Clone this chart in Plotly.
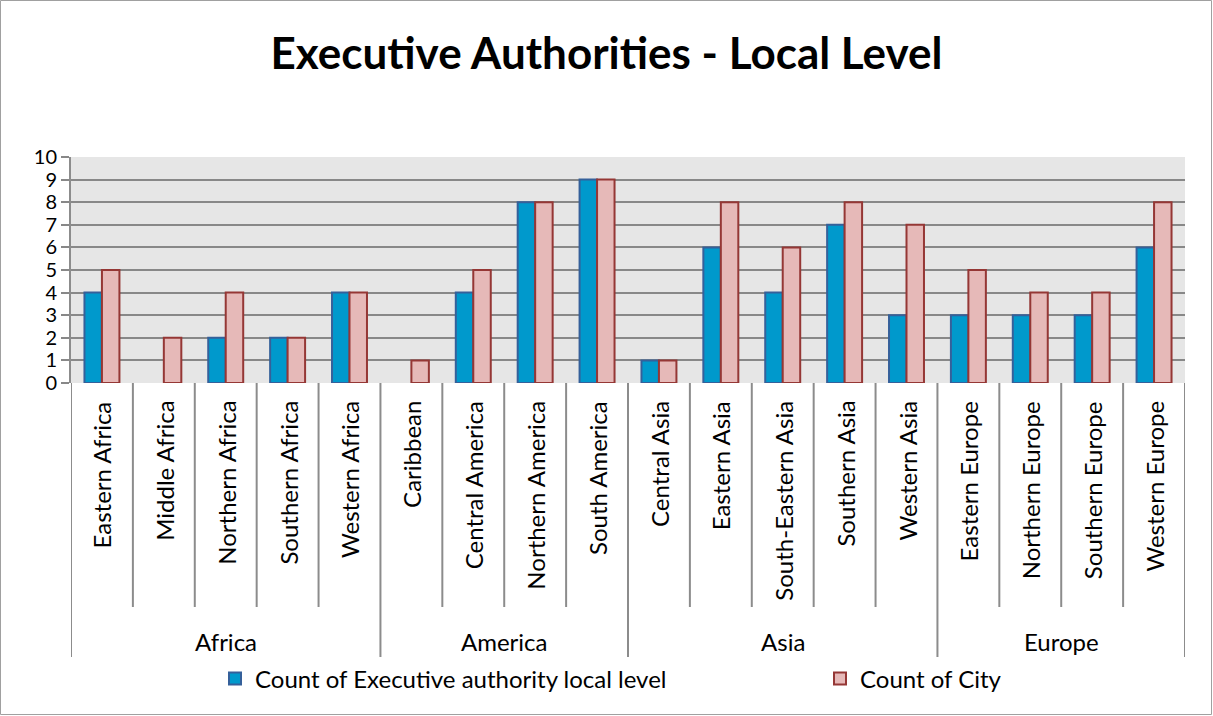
import plotly.graph_objects as go

regions = ["Eastern Africa", "Middle Africa", "Northern Africa", "Southern Africa", "Western Africa",
           "Caribbean", "Central America", "Northern America", "South America",
           "Central Asia", "Eastern Asia", "South-Eastern Asia", "Southern Asia", "Western Asia",
           "Eastern Europe", "Northern Europe", "Southern Europe", "Western Europe"]
continents = ["Africa", "America", "Asia", "Europe"]
continent_sizes = [5, 4, 5, 4]
exec_counts = [4, 0, 2, 2, 4, 0, 4, 8, 9, 1, 6, 4, 7, 3, 3, 3, 3, 6]
city_counts = [5, 2, 4, 2, 4, 1, 5, 8, 9, 1, 8, 6, 8, 7, 5, 4, 4, 8]
y_ticks = list(range(0, 11))

FONT = "Lato, Calibri, Carlito, sans-serif"
W, H = 1213, 716
L, R, T, B = 71, 28, 157, 333
pw, ph = W - L - R, H - T - B

def px_y(py):
    return (H - B - py) / ph

def px_x(px):
    return (px - L) / pw

fig = go.Figure()
fig.add_trace(go.Bar(x=regions, y=exec_counts, name="Count of Executive authority local level",
                     legend="legend",
                     marker=dict(color="#0099CC",
                                 line=dict(color="#35609A", width=[0 if v == 0 else 2 for v in exec_counts]))))
fig.add_trace(go.Bar(x=regions, y=city_counts, name="Count of City", legend="legend2",
                     marker=dict(color="#E6B9B8",
                                 line=dict(color="#953735", width=[0 if v == 0 else 2 for v in city_counts]))))

shapes = []
annotations = []
line_col = "#8C8C8C"
for i, r in enumerate(regions):
    annotations.append(dict(x=i, y=px_y(399), xref="x", yref="paper", text=r, textangle=-90,
                            showarrow=False, xanchor="center", yanchor="top",
                            font=dict(family=FONT, size=24, color="#000")))
bounds = [0]
for s in continent_sizes:
    bounds.append(bounds[-1] + s)
for i in range(len(regions) + 1):
    bottom = 657 if i in bounds else 607
    shapes.append(dict(type="line", xref="x", yref="paper", x0=i - 0.5, x1=i - 0.5,
                       y0=0, y1=px_y(bottom), line=dict(color=line_col, width=2)))
for k, c in enumerate(continents):
    mid = (bounds[k] + bounds[k + 1] - 1) / 2
    annotations.append(dict(x=mid, y=px_y(641), xref="x", yref="paper", text=c,
                            showarrow=False, xanchor="center", yanchor="middle",
                            font=dict(family=FONT, size=24, color="#000")))
shapes.append(dict(type="rect", xref="paper", yref="paper",
                   x0=-(L - 0.5) / pw, x1=(W - L - 1.5) / pw,
                   y0=-(B - 1.5) / ph, y1=(H - B - 0.5) / ph,
                   line=dict(color="#A0A0A0", width=1)))

legend_common = dict(orientation="h", xanchor="left", yanchor="middle", y=px_y(679),
                     itemwidth=30, font=dict(family=FONT, size=24, color="#000"),
                     bgcolor="rgba(0,0,0,0)")
fig.update_layout(
    width=W, height=H,
    margin=dict(l=L, r=R, t=T, b=B, autoexpand=False),
    paper_bgcolor="white", plot_bgcolor="#E6E6E6",
    title=dict(text="<b>Executive Authorities - Local Level</b>", x=0.5, xanchor="center",
               y=1 - 54 / H, yanchor="middle", xref="container",
               font=dict(family=FONT, size=44, color="#000")),
    barmode="group", bargap=0.435, bargroupgap=0,
    showlegend=True,
    legend=dict(x=px_x(215), **legend_common),
    legend2=dict(x=px_x(820), **legend_common),
    shapes=shapes, annotations=annotations,
)
fig.update_xaxes(showticklabels=False, showgrid=False, zeroline=False, showline=False,
                 range=[-0.5, len(regions) - 0.5])
fig.update_yaxes(range=[0, 10], tickvals=y_ticks, showgrid=True, gridcolor="#888888", gridwidth=2,
                 zeroline=False, showline=True, linecolor=line_col, linewidth=2,
                 ticks="outside", ticklen=8, tickcolor="#888888", tickwidth=2,
                 tickfont=dict(family=FONT, size=20, color="#000"))

fig.write_html("out.html", config={"displayModeBar": False},
               post_script="document.body.style.margin='0';")
